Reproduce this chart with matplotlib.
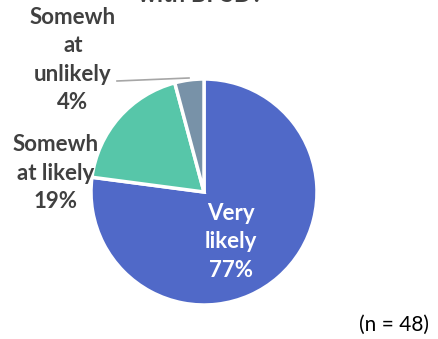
import matplotlib.pyplot as plt

categories = ["Very\nlikely", "Somewh\nat likely", "Somewh\nat\nunlikely"]
counts = [37, 9, 2]
percent_labels = ["77%", "19%", "4%"]
colors = ["#5069C8", "#57C6A9", "#7892A8"]
title = "with BPSD?"
note = "(n = 48)"

W, H = 438, 339
fig = plt.figure(figsize=(W / 100, H / 100), dpi=100)
ax = fig.add_axes([0, 0, 1, 1])
ax.set_xlim(0, W)
ax.set_ylim(0, H)
ax.set_aspect("equal")
ax.axis("off")

cx, cy, r = 204, H - 192, 113
ax.pie(counts, colors=colors, startangle=90, counterclock=False,
       center=(cx, cy), radius=r,
       wedgeprops=dict(edgecolor="white", linewidth=2.5))
ax.set_xlim(0, W)
ax.set_ylim(0, H)

font = "Lato"
fs = 16
ls = 1.42
# Very likely (inside)
ax.text(231, H - 242, categories[0] + "\n" + percent_labels[0], ha="center", va="center",
        color="white", fontsize=fs, fontweight="bold", family=font, linespacing=ls)
# Somewhat likely
ax.text(56, H - 173, categories[1] + "\n" + percent_labels[1], ha="center", va="center",
        color="#404040", fontsize=fs, fontweight="bold", family=font, linespacing=ls)
# Somewhat unlikely
ax.text(73, H - 60, categories[2] + "\n" + percent_labels[2], ha="center", va="center",
        color="#404040", fontsize=fs, fontweight="bold", family=font, linespacing=ls)
ax.plot([117, 189], [H - 81, H - 78], color="#A6A6A6", lw=1.2)

# cut-off title (only its lower edge is visible, as in the reference)
ax.text(200, H - 2.5, title, ha="center", va="baseline", color="#404040",
        fontsize=17, fontweight="bold", family=font, clip_on=False)

ax.text(394, H - 325, note, ha="center", va="center", color="#000000",
        fontsize=15, family=font)

fig.savefig("out.png", dpi=100)
